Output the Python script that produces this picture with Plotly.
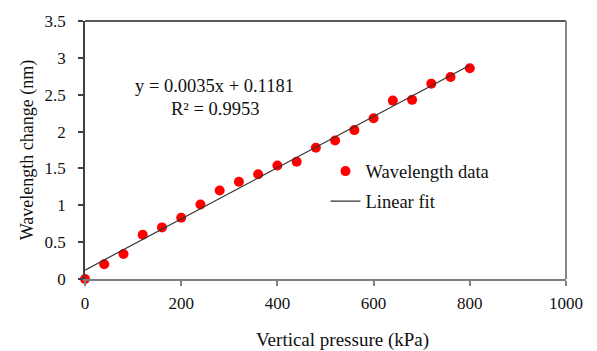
import numpy as np
import plotly.graph_objects as go

pressure = [0, 40, 80, 120, 160, 200, 240, 280, 320, 360, 400, 440, 480, 520, 560, 600, 640, 680, 720, 760, 800]
wavelength = [0.00, 0.20, 0.34, 0.60, 0.70, 0.83, 1.01, 1.20, 1.32, 1.42, 1.54, 1.59, 1.78, 1.88, 2.02, 2.18, 2.42, 2.43, 2.65, 2.74, 2.86]
eq_text = "y = 0.0035x + 0.1181"
r2_text = "R² = 0.9953"
x_title = "Vertical pressure (kPa)"
y_title = "Wavelength change (nm)"

slope, intercept = np.polyfit(pressure, wavelength, 1)
fit_x = [min(pressure), max(pressure)]
fit_y = [slope * v + intercept for v in fit_x]

FONT = "Liberation Serif"

fig = go.Figure()
fig.add_trace(go.Scatter(x=pressure, y=wavelength, mode="markers", name="Wavelength data",
                         marker=dict(color="#ff0000", size=10), cliponaxis=False,
                         legendgroup="a"))
fig.add_trace(go.Scatter(x=fit_x, y=fit_y, mode="lines", name="Linear fit",
                         line=dict(color="#333333", width=1.2), legendgroup="b"))

fig.add_annotation(x=270, y=2.62, xref="x", yref="y", text=eq_text, showarrow=False,
                   font=dict(family=FONT, size=18.5, color="#111111"))
fig.add_annotation(x=270, y=2.31, xref="x", yref="y", text=r2_text, showarrow=False,
                   font=dict(family=FONT, size=18.5, color="#111111"))

# x-axis title (placed as in the reference, slightly right of centre)
fig.add_annotation(x=0.535, y=-0.235, xref="paper", yref="paper", text=x_title,
                   showarrow=False, yanchor="middle",
                   font=dict(family=FONT, size=19, color="#111111"))

# plot-area border (top and right)
fig.add_shape(type="line", xref="paper", yref="paper", x0=0, x1=1, y0=1, y1=1,
              line=dict(color="#222222", width=1.5))
fig.add_shape(type="line", xref="paper", yref="paper", x0=1, x1=1, y0=0, y1=1,
              line=dict(color="#888888", width=2))

fig.update_layout(
    width=597, height=351,
    margin=dict(l=85, r=31, t=13, b=72),
    paper_bgcolor="white", plot_bgcolor="white",
    font=dict(family=FONT, size=17, color="#111111"),
    showlegend=True,
    legend=dict(x=0.5, y=0.49, xanchor="left", yanchor="top",
                bgcolor="rgba(0,0,0,0)", font=dict(family=FONT, size=18.5),
                traceorder="grouped", tracegroupgap=3),
    xaxis=dict(range=[0, 1000], tickvals=[0, 200, 400, 600, 800, 1000],
               showgrid=False, zeroline=False, showline=True, linecolor="#808080", linewidth=2,
               ticks="outside", ticklen=5, tickcolor="#808080", tickwidth=1.5,
               tickfont=dict(family=FONT, size=17), ticklabelstandoff=3),
    yaxis=dict(range=[0, 3.5], tickvals=[0, 0.5, 1, 1.5, 2, 2.5, 3, 3.5],
               ticktext=["0", "0.5", "1", "1.5", "2", "2.5", "3", "3.5"],
               showgrid=False, zeroline=False, showline=True, linecolor="#404040", linewidth=1.5,
               ticks="outside", ticklen=5, tickcolor="#404040", tickwidth=1.5,
               tickfont=dict(family=FONT, size=17), ticklabelstandoff=9,
               title=dict(text=y_title, font=dict(family=FONT, size=18), standoff=6)),
)

fig.write_html("out.html")
